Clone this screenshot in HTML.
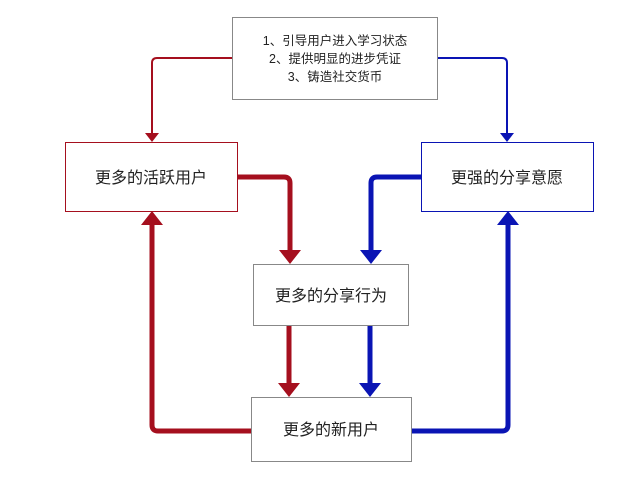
<!DOCTYPE html>
<html><head><meta charset="utf-8"><style>
body{margin:0;background:#fff;width:640px;height:483px;overflow:hidden}
svg text{font-family:"Liberation Sans","Noto Sans CJK SC",sans-serif;fill:#222}
</style></head><body>
<svg width="640" height="483" viewBox="0 0 640 483">
<defs>
<marker id="rt" markerWidth="8" markerHeight="8" refX="4" refY="6" orient="auto" markerUnits="userSpaceOnUse"><path d="M0,0 L8,0 L4,6z" fill="#a50f1e" transform="rotate(0)"/></marker>
</defs>
<g fill="none" stroke-linejoin="round">
<!-- thin -->
<path d="M232,58 H157 Q152,58 152,63 V134" stroke="#a50f1e" stroke-width="2"/>
<path d="M437,58 H502 Q507,58 507,63 V134" stroke="#0a14b4" stroke-width="2"/>
<!-- thick -->
<path d="M237,177 H284 Q290,177 290,183 V252" stroke="#a50f1e" stroke-width="5"/>
<path d="M421,177 H377 Q371,177 371,183 V252" stroke="#0a14b4" stroke-width="5"/>
<path d="M289,325 V385" stroke="#a50f1e" stroke-width="5"/>
<path d="M370,325 V385" stroke="#0a14b4" stroke-width="5"/>
<path d="M251,431 H158 Q152,431 152,425 V224" stroke="#a50f1e" stroke-width="5"/>
<path d="M411,431 H502 Q508,431 508,425 V224" stroke="#0a14b4" stroke-width="5"/>
</g>
<!-- arrowheads -->
<path d="M145,133 L159,133 L152,142z" fill="#a50f1e"/>
<path d="M500,133 L514,133 L507,142z" fill="#0a14b4"/>
<path d="M279,250 L301,250 L290,264z" fill="#a50f1e"/>
<path d="M360,250 L382,250 L371,264z" fill="#0a14b4"/>
<path d="M278,383 L300,383 L289,397z" fill="#a50f1e"/>
<path d="M359,383 L381,383 L370,397z" fill="#0a14b4"/>
<path d="M141,225 L163,225 L152,211z" fill="#a50f1e"/>
<path d="M497,225 L519,225 L508,211z" fill="#0a14b4"/>
<!-- boxes -->
<rect x="232.5" y="17.5" width="205" height="82" fill="#fff" stroke="#888"/>
<rect x="65.5" y="142.5" width="172" height="69" fill="#fff" stroke="#a50f1e"/>
<rect x="421.5" y="142.5" width="172" height="69" fill="#fff" stroke="#0a14b4"/>
<rect x="253.5" y="264.5" width="155" height="61" fill="#fff" stroke="#888"/>
<rect x="251.5" y="397.5" width="160" height="64" fill="#fff" stroke="#888"/>
<g font-size="12.5" text-anchor="middle">
<text x="335" y="45">1、引导用户进入学习状态</text>
<text x="335" y="63">2、提供明显的进步凭证</text>
<text x="335" y="81">3、铸造社交货币</text>
</g>
<g font-size="16" text-anchor="middle">
<text x="151" y="183">更多的活跃用户</text>
<text x="507" y="183">更强的分享意愿</text>
<text x="331" y="301">更多的分享行为</text>
<text x="331" y="435">更多的新用户</text>
</g>
</svg>
</body></html>
